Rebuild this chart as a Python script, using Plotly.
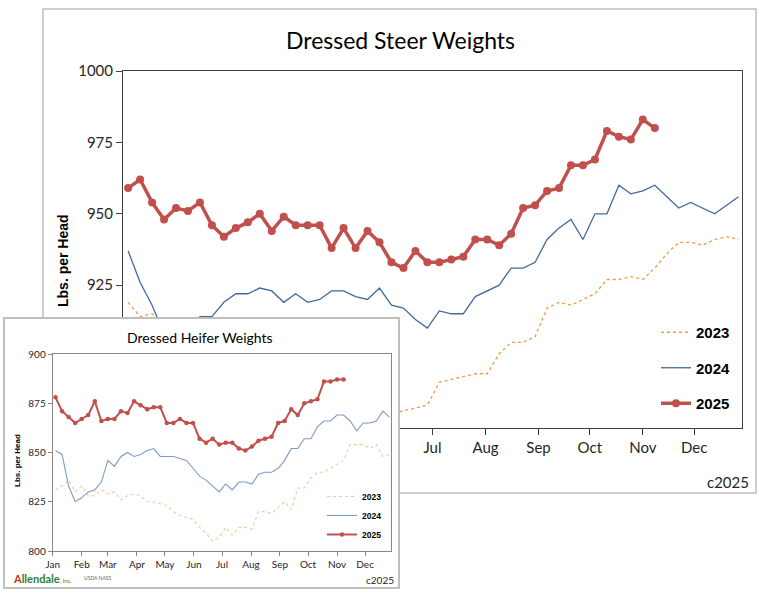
import pandas as pd
import plotly.graph_objects as go

# ---------------- data ----------------
weeks = pd.date_range("2025-01-04", periods=52, freq="7D")
month_ticks = pd.date_range("2025-01-01", periods=12, freq="MS")
month_labels = ["Jan", "Feb", "Mar", "Apr", "May", "Jun",
                "Jul", "Aug", "Sep", "Oct", "Nov", "Dec"]

steer_2023 = [919, 914, 915, 912, 913, 910, 908, 909, 906, 904, 905, 901, 899,
              900, 896, 894, 893, 890, 888, 886, 884, 882, 880, 881, 882, 883,
              891, 892, 893, 894, 894, 901, 905, 905, 907, 917, 919, 918, 920,
              922, 927, 927, 928, 927, 931, 936, 940, 940, 939, 941, 942, 941]
steer_2024 = [937, 926, 918, 908, 906, 910, 914, 914, 919, 922, 922, 924, 923,
              919, 922, 919, 920, 923, 923, 921, 920, 924, 918, 917, 913, 910,
              916, 915, 915, 921, 923, 925, 931, 931, 933, 941, 945, 948, 941,
              950, 950, 960, 957, 958, 960, 956, 952, 954, 952, 950, 953, 956]
steer_2025 = [959, 962, 954, 948, 952, 951, 954, 946, 942, 945, 947, 950, 944,
              949, 946, 946, 946, 938, 945, 938, 944, 940, 933, 931, 937, 933,
              933, 934, 935, 941, 941, 939, 943, 952, 953, 958, 959, 967, 967,
              969, 979, 977, 976, 983, 980]

heifer_2023 = [831, 833, 836, 830, 833, 828, 828, 831, 829, 830, 826, 828, 829,
               828, 825, 825, 824, 823, 820, 818, 817, 816, 812, 809, 805, 807,
               812, 808, 812, 812, 811, 820, 820, 819, 822, 825, 821, 832, 832,
               837, 840, 840, 842, 844, 846, 854, 854, 854, 852, 854, 848, 849]
heifer_2024 = [851, 849, 833, 825, 827, 830, 831, 835, 846, 843, 848, 850, 848,
               849, 851, 852, 848, 848, 848, 847, 846, 842, 838, 836, 833, 830,
               834, 831, 835, 835, 834, 839, 840, 840, 842, 846, 852, 852, 857,
               857, 863, 866, 866, 869, 869, 866, 861, 865, 865, 866, 871, 868]
heifer_2025 = [878, 871, 868, 865, 867, 869, 876, 866, 867, 867, 871, 870, 876,
               874, 872, 873, 873, 865, 865, 867, 865, 865, 857, 855, 857, 854,
               855, 855, 852, 851, 853, 856, 857, 858, 865, 866, 872, 869, 875,
               876, 877, 886, 886, 887, 887]

steer_ticks = [875, 900, 925, 950, 975, 1000]
heifer_ticks = [800, 825, 850, 875, 900]

# ---------------- layout helpers ----------------
W, H = 768, 593


def px(x):
    return x / W


def py(y):
    return 1 - y / H


FONT = "Lato"
BOLD = "Liberation Sans"
RED = "#c0504d"

fig = go.Figure()

# main chart traces
fig.add_trace(go.Scatter(x=weeks, y=steer_2023, name="2023", mode="lines",
                         line=dict(color="#f79646", width=1.3, dash="dot"),
                         legend="legend", legendgroup="m23"))
fig.add_trace(go.Scatter(x=weeks, y=steer_2024, name="2024", mode="lines",
                         line=dict(color="#44689d", width=1.3),
                         legend="legend", legendgroup="m24"))
fig.add_trace(go.Scatter(x=weeks[:len(steer_2025)], y=steer_2025, name="2025",
                         mode="lines+markers",
                         line=dict(color=RED, width=3.5),
                         marker=dict(color=RED, size=8),
                         legend="legend", legendgroup="m25"))

# inset background subplot (empty)
fig.add_trace(go.Scatter(x=[], y=[], xaxis="x2", yaxis="y2", showlegend=False,
                         hoverinfo="skip"))

# inset chart traces
fig.add_trace(go.Scatter(x=weeks, y=heifer_2023, name="2023", mode="lines",
                         xaxis="x3", yaxis="y3",
                         line=dict(color="#fbc49c", width=1.1, dash="dot"),
                         legend="legend2", legendgroup="h23"))
fig.add_trace(go.Scatter(x=weeks, y=heifer_2024, name="2024", mode="lines",
                         xaxis="x3", yaxis="y3",
                         line=dict(color="#7b9bc8", width=1.1),
                         legend="legend2", legendgroup="h24"))
fig.add_trace(go.Scatter(x=weeks[:len(heifer_2025)], y=heifer_2025, name="2025",
                         mode="lines+markers", xaxis="x3", yaxis="y3",
                         line=dict(color=RED, width=2),
                         marker=dict(color=RED, size=4.5),
                         legend="legend2", legendgroup="h25"))

date_range = ["2025-01-01", "2025-12-29"]

fig.update_layout(
    template="none",
    width=W, height=H, autosize=False,
    margin=dict(l=0, r=0, t=0, b=0, pad=0, autoexpand=False),
    paper_bgcolor="white", plot_bgcolor="white",
    showlegend=True, hovermode=False,
    font=dict(family=FONT, color="#262626"),
    xaxis=dict(domain=[px(123), px(742)], anchor="y", type="date",
               range=date_range, tickvals=month_ticks, ticktext=month_labels,
               ticks="outside", ticklen=6, tickcolor="#404040", automargin=False,
               showline=True, linecolor="#404040", linewidth=1, mirror=True,
               showgrid=False, zeroline=False,
               tickfont=dict(family=FONT, size=15, color="#262626")),
    yaxis=dict(domain=[py(428), py(71)], anchor="x", range=[875, 1000],
               tickvals=steer_ticks, ticks="outside", ticklen=6, automargin=False,
               tickcolor="#404040", showline=True, linecolor="#404040",
               linewidth=1, mirror=True, showgrid=False, zeroline=False,
               tickfont=dict(family=FONT, size=15, color="#262626")),
    xaxis2=dict(domain=[px(5), px(398)], anchor="y2", range=[0, 1],
                showline=True, linecolor="#bfbfbf", linewidth=1.5, mirror=True,
                automargin=False,
                showticklabels=False, ticks="", showgrid=False, zeroline=False),
    yaxis2=dict(domain=[py(587), py(319)], anchor="x2", range=[0, 1],
                showline=True, linecolor="#bfbfbf", linewidth=1.5, mirror=True,
                automargin=False,
                showticklabels=False, ticks="", showgrid=False, zeroline=False),
    xaxis3=dict(domain=[px(52.7), px(391.3)], anchor="y3", type="date",
                range=date_range, tickvals=month_ticks, ticktext=month_labels,
                ticks="outside", ticklen=4, tickcolor="#868686", automargin=False,
                showline=True, linecolor="#868686", linewidth=1, mirror=True,
                showgrid=False, zeroline=False,
                tickfont=dict(family=FONT, size=10, color="#262626")),
    yaxis3=dict(domain=[py(551), py(354)], anchor="x3", range=[800, 900],
                tickvals=heifer_ticks, ticks="outside", ticklen=4, automargin=False,
                tickcolor="#868686", showline=True, linecolor="#868686",
                linewidth=1, mirror=True, showgrid=False, zeroline=False,
                tickfont=dict(family=FONT, size=10, color="#262626")),
    legend=dict(x=px(656), y=py(316), xanchor="left", yanchor="top",
                font=dict(family=BOLD, size=15, color="#000000", weight="bold"),
                tracegroupgap=13, itemwidth=30, bgcolor="rgba(0,0,0,0)"),
    legend2=dict(x=px(322), y=py(482), xanchor="left", yanchor="top",
                 font=dict(family=BOLD, size=8.5, color="#000000", weight="bold"),
                 tracegroupgap=0, itemwidth=30, bgcolor="rgba(0,0,0,0)"),
    shapes=[dict(type="rect", xref="paper", yref="paper",
                 x0=px(43), x1=px(756), y0=py(493), y1=py(9),
                 line=dict(color="#bfbfbf", width=1.5), layer="below")],
    annotations=[
        dict(text="Dressed Steer Weights", x=px(400), y=py(40), xref="paper",
             yref="paper", xanchor="center", yanchor="middle", showarrow=False,
             font=dict(family=FONT, size=23, color="#000000")),
        dict(text="<b>Lbs. per Head</b>", x=px(63), y=py(261), xref="paper",
             yref="paper", xanchor="center", yanchor="middle", showarrow=False,
             textangle=-90, font=dict(family=BOLD, size=14, color="#000000")),
        dict(text="c2025", x=px(751), y=py(482), xref="paper", yref="paper",
             xanchor="right", yanchor="middle", showarrow=False,
             font=dict(family=FONT, size=15, color="#262626")),
        dict(text="Dressed Heifer Weights", x=px(200), y=py(337), xref="paper",
             yref="paper", xanchor="center", yanchor="middle", showarrow=False,
             font=dict(family=FONT, size=14, color="#000000")),
        dict(text="<b>Lbs. per Head</b>", x=px(17), y=py(461), xref="paper",
             yref="paper", xanchor="center", yanchor="middle", showarrow=False,
             textangle=-90, font=dict(family=BOLD, size=8, color="#000000")),
        dict(text="c2025", x=px(396), y=py(580), xref="paper", yref="paper",
             xanchor="right", yanchor="middle", showarrow=False,
             font=dict(family=FONT, size=10, color="#262626")),
        dict(text="<b><span style='color:#c0392b'>A</span>llendale</b>"
                  "<span style='font-size:6px'>, Inc.</span>",
             x=px(11), y=py(578), xref="paper", yref="paper",
             xanchor="left", yanchor="middle", showarrow=False,
             font=dict(family=FONT, size=11, color="#2e7d32")),
        dict(text="USDA NASS", x=px(82), y=py(578), xref="paper", yref="paper",
             xanchor="left", yanchor="middle", showarrow=False,
             font=dict(family=FONT, size=5, color="#666666")),
    ],
)

fig.write_html(
    "out.html",
    config={"displayModeBar": False},
    post_script="document.body.style.margin='0';"
                "document.body.style.overflow='hidden';",
)
